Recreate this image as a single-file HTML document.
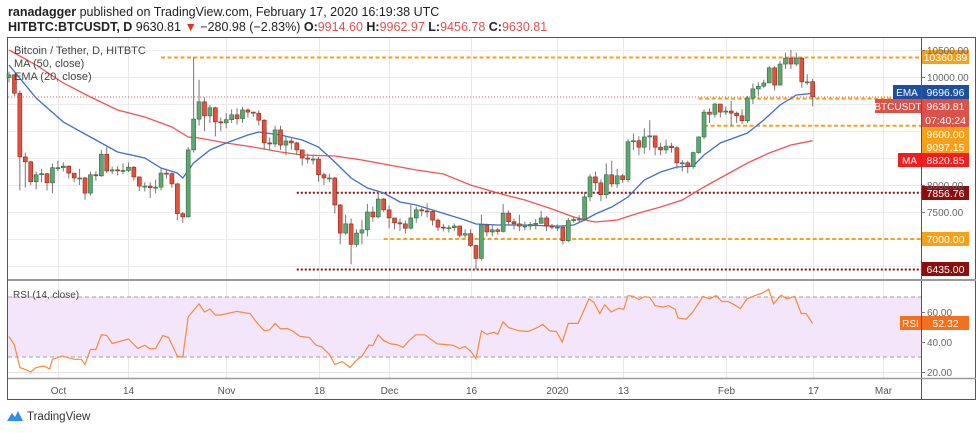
<!DOCTYPE html>
<html><head><meta charset="utf-8"><style>
body{margin:0;background:#fff;width:980px;height:433px;overflow:hidden;font-family:"Liberation Sans",sans-serif}
svg{display:block}
text{font-family:"Liberation Sans",sans-serif}
</style></head><body>
<svg id="chart" width="980" height="433" viewBox="0 0 980 433" xmlns="http://www.w3.org/2000/svg">
<text x="8" y="16" font-size="12.5" fill="#222"><tspan font-weight="bold">ranadagger</tspan> published on TradingView.com, February 17, 2020 16:19:38 UTC</text>
<text x="8" y="31" font-size="12.5" fill="#222"><tspan font-weight="bold">HITBTC:BTCUSDT, D</tspan> 9630.81 <tspan fill="#e0332a">▼</tspan> −280.98 (−2.83%) <tspan font-weight="bold">O:</tspan><tspan fill="#e05050">9914.60</tspan> <tspan font-weight="bold">H:</tspan><tspan fill="#e05050">9962.97</tspan> <tspan font-weight="bold">L:</tspan><tspan fill="#e05050">9456.78</tspan> <tspan font-weight="bold">C:</tspan><tspan fill="#e05050">9630.81</tspan></text>
<rect x="7.5" y="37.5" width="968" height="362" fill="none" stroke="#555" stroke-width="1"/>
<g id="grid"></g>
<rect x="8" y="297" width="913" height="60" fill="#f3e6fb"/>
<g id="lines"></g>
<g id="candles"></g>
<g id="overlay"></g>
<line x1="921.5" y1="38" x2="921.5" y2="400" stroke="#555"/>
<line x1="8" y1="280" x2="976" y2="280" stroke="#999" stroke-width="2"/>
<line x1="8" y1="378.5" x2="976" y2="378.5" stroke="#999" stroke-width="1.5"/>
<g id="axis"></g>
<text x="14" y="54" font-size="11" fill="#444">Bitcoin / Tether, D, HITBTC</text>
<text x="14" y="67" font-size="11" fill="#444">MA (50, close)</text>
<text x="14" y="80" font-size="11" fill="#444">EMA (20, close)</text>
<text x="13" y="298" font-size="10" fill="#444">RSI (14, close)</text>
<g>
<path d="M7 421 L12 413 L15 417 L18 411 L23 421 Z" fill="#2e8fe8"/>
<text x="27" y="420" font-size="11.5" fill="#333">TradingView</text>
</g>
</svg>
<script>
const opens=[9990,10040,9700,8520,8430,8060,8190,8210,8040,8320,8320,8350,8220,8130,8130,7850,8190,8170,8570,8260,8280,8270,8270,8330,8150,7980,7980,7950,7960,8220,8210,8020,7470,7410,8650,9220,9540,9280,9430,9170,9150,9210,9300,9230,9390,9350,9330,9200,8780,8760,9020,8740,8815,8780,8650,8500,8480,8480,8190,8130,8130,7630,7110,7280,6900,7110,7170,7500,7410,7740,7540,7390,7300,7280,7200,7390,7540,7520,7510,7350,7220,7210,7210,7240,7070,7100,6880,6640,7260,7130,7170,7140,7480,7320,7280,7240,7240,7270,7290,7390,7240,7220,7220,6970,7340,7360,7370,7780,8150,8040,7820,8190,8020,8170,8100,8800,8820,8700,8890,8910,8700,8650,8720,8690,8410,8410,8340,8600,8890,9350,9310,9500,9350,9370,9330,9280,9190,9610,9780,9830,9890,10170,9850,10240,10350,10240,10350,9910,9914];
const closes=[10040,9700,8520,8430,8060,8190,8210,8040,8320,8320,8350,8220,8130,8130,7850,8190,8170,8570,8260,8280,8270,8270,8330,8150,7980,7980,7950,7960,8220,8210,8020,7470,7410,8650,9220,9540,9280,9430,9170,9150,9210,9300,9230,9390,9350,9330,9200,8780,8760,9020,8740,8815,8780,8650,8500,8480,8480,8190,8130,8130,7630,7110,7280,6900,7110,7170,7500,7410,7740,7540,7390,7300,7280,7200,7390,7540,7520,7510,7350,7220,7210,7210,7240,7070,7100,6880,6640,7260,7130,7170,7140,7480,7320,7280,7240,7240,7270,7290,7390,7240,7220,7220,6970,7340,7360,7370,7780,8150,8040,7820,8190,8020,8170,8100,8800,8820,8700,8890,8910,8700,8650,8720,8690,8410,8410,8340,8600,8890,9350,9310,9500,9350,9370,9330,9280,9190,9610,9780,9830,9890,10170,9850,10240,10350,10240,10350,9910,9910,9630];
const highs=[10100,10050,9750,8600,8450,8250,8300,8220,8400,8450,8420,8360,8200,8300,8150,8250,8250,8650,8700,8340,8350,8400,8420,8350,8150,8050,8050,8100,8300,8300,8230,8040,7500,8700,10370,9950,9620,9480,9450,9250,9330,9400,9420,9450,9420,9360,9380,9220,8880,9100,9100,8900,8880,8800,8650,8580,8560,8520,8230,8210,8150,7650,7450,7380,7180,7350,7650,7600,7900,7760,7620,7380,7380,7340,7630,7600,7580,7660,7540,7380,7280,7260,7290,7250,7180,7180,6900,7450,7280,7250,7200,7650,7530,7380,7450,7320,7320,7370,7520,7430,7280,7270,7260,7390,7420,7440,7870,8200,8250,8100,8400,8450,8300,8200,8850,8950,8900,9050,9200,8910,8780,8840,8780,8720,8460,8450,8620,8900,9400,9420,9520,9500,9450,9560,9360,9400,9650,9880,9900,9950,10200,10200,10300,10450,10500,10450,10370,10050,9963];
const lows=[9900,9650,7900,7950,8000,7920,8050,7900,7850,8260,8250,8120,8050,8000,7730,7800,8080,8150,8220,8200,8180,8200,8240,8080,7890,7880,7760,7850,7900,8120,7950,7350,7300,7400,8600,9100,9000,9150,8900,9000,9050,9150,9120,9150,9250,9260,9100,8650,8650,8700,8650,8550,8650,8550,8360,8400,8380,8060,8000,8050,7470,6900,7080,6530,6850,6900,7050,7320,7380,7500,7200,7180,7150,7100,7180,7300,7420,7400,7250,7150,7140,7120,7150,7030,7020,6850,6435,6600,7050,7050,7080,7120,7250,7180,7150,7160,7170,7180,7300,7150,7180,7150,6900,6940,7300,7310,7330,7700,7900,7700,7750,7960,7950,8040,8050,8650,8550,8580,8650,8550,8550,8580,8600,8300,8250,8220,8300,8580,8850,9150,9250,9250,9300,9100,9150,9130,9150,9500,9650,9800,9900,9750,9850,10150,10150,10200,9800,9850,9457];
const emaDays=[0,5,10,15,20,25,28,31,32,34,37,40,44,46,50,54,57,60,63,66,69,72,75,78,81,84,86,90,95,100,102,104,106,108,111,114,117,120,123,126,128,131,134,136,139,142,145,148];
const emaVals=[10222,9611,9167,8889,8611,8500,8315,8222,8130,8407,8648,8778,8926,8981,8926,8833,8704,8426,8130,7944,7852,7685,7630,7537,7444,7352,7278,7259,7259,7241,7241,7259,7352,7463,7593,7778,8093,8241,8333,8352,8556,8778,8889,8963,9204,9481,9667,9697];
const maDays=[0,5,10,15,20,25,30,33,35,40,45,50,54,60,65,70,75,80,85,90,95,100,104,107,108,112,116,120,124,128,132,136,140,144,148];
const maVals=[10500,10222,9889,9630,9389,9259,9074,8889,8870,8778,8704,8611,8556,8537,8463,8370,8278,8204,8000,7852,7722,7556,7407,7333,7315,7352,7481,7593,7722,7963,8185,8407,8593,8741,8821];
const rsiDays=[0,1,2,3.5,4,5,6.4,7.5,8,9.8,12,13.3,14,15,16,17,18,19,20,22,23.7,25,26,27,28.3,29.4,31,32,33,35,36,37,38,39,41,42,43.2,44.4,45.5,47,48,49,50,51.3,52.4,53.6,55.3,56.5,57.6,59,60,61.4,62.8,64,65,66.3,67,68,69,70.3,71.4,72.6,73.7,74.9,76.6,77.8,78.9,80.6,81.8,83,84,85,86,87,88,89.3,90,91,92,94,95.6,97.3,98.3,99.6,100.8,101.9,103,104.8,106.8,107.7,108.8,109.7,110.9,112.3,113.2,114,115,116,117,118,119,120.4,121.5,122.7,123.2,124.7,126,127.8,129,130.2,131.3,132.4,133.6,134.7,135.9,137.6,138.8,139.9,140.8,142.2,143.3,144.7,145.9,146.8,148];
const rsiVals=[43.7,38,23,21,20,23,24,22,28.5,30.6,28.5,28.5,25,35,35,44.8,44.4,39,40,42,35.7,37.8,35.4,35.6,44.3,43,30.6,30,56.7,65.4,60,62,58,58,59.6,60.4,59.6,59,53.5,47.4,48,52.4,48.7,49,47,43.7,43,38,36.7,31.7,25,27,23,27.8,30.6,38,37.6,44.8,40.9,38.7,38.3,36.5,40.9,44.8,44.8,41.5,38.7,38.3,37.8,35.6,37,34,29,47.4,45.2,46.5,45.2,53.5,49.6,47.4,47,49.6,51.7,47.4,47,40,52.4,52.4,68.7,66.5,59,64.8,60,62.6,61.7,70.9,70.5,68.3,70.2,69.8,64.3,63.3,64.3,61.7,56,55.2,60.4,70.4,68.7,70.9,67,67,64.8,62.2,68.7,71.3,72.6,75.2,65.4,71.3,68.7,70.4,59,59,52.3];
const priceTicks=[10500,10000,9500,9000,8500,8000,7500,7000,6500];
const priceTickLabels=["10500.00","10000.00","","","","8000.00","7500.00","",""];
const rsiTicks=[60,40,20];
const rsiTickLabels=["60.00","40.00","20.00"];
const timeDays=[9,22,40,57,70,85,101,113,132,148,161];
const timeLabels=["Oct","14","Nov","18","Dec","16","2020","13","Feb","17","Mar"];
const levelVals=[10360.89,9600,9097.15,7856.76,7000,6435];
const levelStart=[28,127,128,53,69,53];

const NS="http://www.w3.org/2000/svg";
const xOf=i=>9+5.43*i;
const yP=p=>77+(10000-p)*0.054;
const yR=v=>342-(v-40)*1.5;
function mk(tag,attrs,parent){const e=document.createElementNS(NS,tag);for(const k in attrs)e.setAttribute(k,attrs[k]);parent.appendChild(e);return e;}
const grid=document.getElementById('grid'),lines=document.getElementById('lines'),cg=document.getElementById('candles'),ov=document.getElementById('overlay'),ax=document.getElementById('axis');

timeDays.forEach((d,k)=>{
  const x=Math.round(xOf(d))+0.5;
  let g=mk('line',{x1:x,y1:38,x2:x,y2:378,stroke:'#e8e8e8'},grid);
  
  
  let t=mk('text',{x:x,y:394,'font-size':10,fill:'#555','text-anchor':'middle'},ax);
  t.textContent=timeLabels[k];
  
  
});
priceTicks.forEach((p,k)=>{
  const y=Math.round(yP(p))+0.5;
  let g=mk('line',{x1:8,y1:y,x2:921,y2:y,stroke:'#ececec'},grid);
  
  
  if(priceTickLabels[k]){
    mk('line',{x1:921,y1:y,x2:925,y2:y,stroke:'#777'},ax);
    let t=mk('text',{x:927,y:y+3.5,'font-size':10,fill:'#666'},ax);
    t.textContent=priceTickLabels[k];
    
    
  }
});
rsiTicks.forEach((v,k)=>{
  const y=Math.round(yR(v))+0.5;
  let g=mk('line',{x1:8,y1:y,x2:921,y2:y,stroke:'#e6e0ea'},grid);
  
  
  mk('line',{x1:921,y1:y,x2:925,y2:y,stroke:'#777'},ax);
  let t=mk('text',{x:927,y:y+3.5,'font-size':10,fill:'#666'},ax);
  t.textContent=rsiTickLabels[k];
  
  
});
[70,30].forEach(v=>{
  let l=mk('line',{x1:8,y1:yR(v),x2:921,y2:yR(v),stroke:'#a89aa8','stroke-dasharray':'4,3'},lines);
  
  
});
let lp=mk('line',{x1:8,y1:yP(closes[closes.length-1]),x2:921,y2:yP(closes[closes.length-1]),stroke:'#e05050','stroke-dasharray':'1,2'},lines);


levelVals.forEach((v,k)=>{
  const dark=(v===7856.76||v===6435);
  let l=mk('line',{x1:xOf(levelStart[k]),y1:yP(v),x2:921,y2:yP(v),stroke:dark?'#8b0f0f':'#f7a11a','stroke-width':2,'stroke-dasharray':dark?'2,2':'4,2.5'},lines);
  
  
});
function poly(days,vals,yf,color,name,parent,w){
  const pts=days.map((d,k)=>xOf(d).toFixed(1)+','+yf(vals[k]).toFixed(1)).join(' ');
  let p=mk('polyline',{points:pts,fill:'none',stroke:color,'stroke-width':w},parent);
  
  
}
poly(maDays,maVals,yP,'#f05454','ma50-line',lines,1.3);
poly(emaDays,emaVals,yP,'#3f6fc6','ema20-line',lines,1.3);
poly(rsiDays,rsiVals,yR,'#f58a3c','rsi-line',lines,1.2);
closes.forEach((c,i)=>{
  const o=opens[i],x=xOf(i),up=c>=o;
  const g=mk('g',{},cg);
  
  
  mk('line',{x1:x,y1:yP(highs[i]),x2:x,y2:yP(lows[i]),stroke:'#777','stroke-width':1},g);
  const top=yP(Math.max(o,c)),bot=yP(Math.min(o,c));
  mk('rect',{x:x-2,y:top,width:4,height:Math.max(1,bot-top),fill:up?'#5da872':'#e2513d',stroke:up?'#2f6b3d':'#8e2a1e','stroke-width':0.6},g);
});
function label(y,txt,bg,name,tag,tagW,tagBg){
  const g=mk('g',{},ov);
  
  
  mk('rect',{x:922,y:y-7,width:47,height:14,fill:bg},g);
  const t=mk('text',{x:945.5,y:y+4,'font-size':10.5,fill:'#fff','text-anchor':'middle'},g);t.textContent=txt;
  if(tag){mk('rect',{x:921-tagW,y:y-7,width:tagW,height:14,fill:tagBg||bg},g);
    const tt=mk('text',{x:921-tagW/2,y:y+4,'font-size':10,fill:'#fff','text-anchor':'middle'},g);tt.textContent=tag;}
}
label(57,'10360.89','#f7a11a','label-resistance');
label(92,'9696.96','#1d4fa0','label-ema','EMA',28);
label(106,'9630.81','#d9534a','label-last-price','BTCUSDT',46);
label(120,'07:40:24','#d9534a','label-countdown');
label(134,'9600.00','#f7a11a','label-9600');
label(147,'9097.15','#f7a11a','label-9097');
label(160,'8820.85','#f01e1e','label-ma','MA',23);
label(193,'7856.76','#8b0f0f','label-7856');
label(239,'7000.00','#f7a11a','label-7000');
label(269,'6435.00','#8b0f0f','label-6435');
label(323,'52.32','#f5701d','label-rsi','RSI',21);
</script>
</body></html>
